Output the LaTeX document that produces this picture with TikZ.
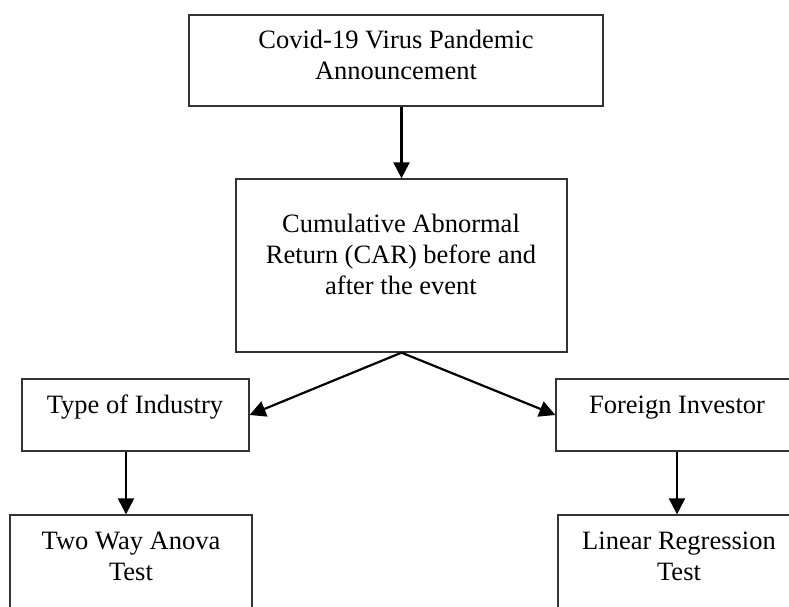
\documentclass[tikz,border=0pt]{standalone}
\usepackage{fontspec}
\setmainfont{Liberation Serif}
\usetikzlibrary{arrows.meta}
\begin{document}
\begin{tikzpicture}[x=1pt,y=-1pt,
  box/.style={draw=black!80,line width=1.3pt,rectangle,inner sep=0pt},
  txt/.style={font=\fontsize{26.5}{31}\selectfont,align=center,inner sep=0pt},
  arr/.style={line width=2.2pt,-{Triangle[width=16pt,length=16pt]}}]
\useasboundingbox (0,0) rectangle (789,607);
\clip (0,0) rectangle (789,607);
% boxes
\node[box,minimum width=414pt,minimum height=91pt] (top) at (396,60.5) {};
\node[box,minimum width=331pt,minimum height=173pt] (mid) at (401.5,265.5) {};
\node[box,minimum width=227pt,minimum height=72pt] (type) at (135.5,415) {};
\node[box,minimum width=242pt,minimum height=72pt] (fi) at (677,415) {};
\node[box,minimum width=242pt,minimum height=110pt] (anova) at (131,570) {};
\node[box,minimum width=242pt,minimum height=110pt] (lr) at (679,570) {};
% texts
\node[txt,anchor=north] (ttop) at (396,30) {Covid-19 Virus Pandemic\\Announcement};
\node[txt,anchor=north] (tmid) at (401,214) {Cumulative Abnormal\\Return (CAR) before and\\after the event};
\node[txt,anchor=base] (ttype) at (135,413) {Type of Industry};
\node[txt,anchor=base] (tfi) at (677,413) {Foreign Investor};
\node[txt,anchor=north] (tanova) at (131,532) {Two Way Anova\\Test};
\node[txt,anchor=north] (tlr) at (679,532) {Linear Regression\\Test};
% arrows
\draw[arr] (mid.north |- top.south) -- (mid.north);
\draw[arr] (mid.south) -- (type.east);
\draw[arr] (mid.south) -- (fi.west);
\draw[arr] ([xshift=-9.5pt]type.south) -- ([xshift=-9.5pt]type.south |- anova.north);
\draw[arr] (fi.south) -- (fi.south |- lr.north);
\end{tikzpicture}
\end{document}
